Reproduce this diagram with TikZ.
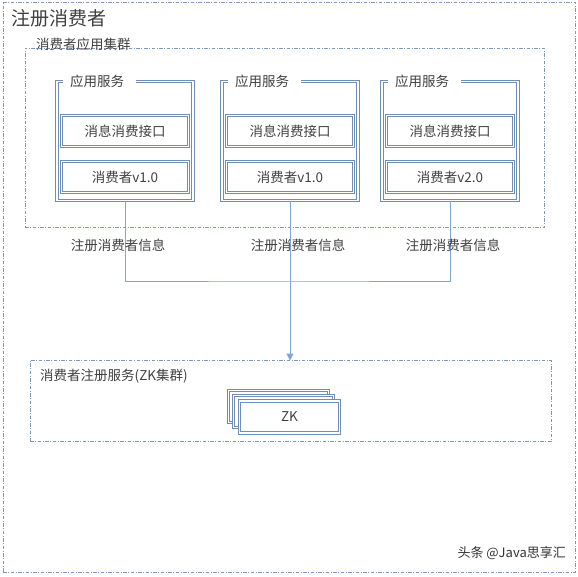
\documentclass[tikz,border=0pt]{standalone}
\usepackage{fontspec}
\setmainfont{Noto Sans CJK SC}
\usetikzlibrary{arrows.meta,positioning}
\definecolor{BoxLine}{HTML}{6F8DB5}
\definecolor{DashLine}{HTML}{7F98BD}
\definecolor{FlowLine}{HTML}{7EA6DB}
\definecolor{TextGrey}{HTML}{404040}

\begin{document}
\begin{tikzpicture}[
            x=1pt, y=-1pt,
            every node/.style={font=\fontsize{13.5}{15}\selectfont, text=TextGrey},
            GroupFrame/.style={draw=DashLine, line width=1pt, dash pattern=on 3.5pt off 1.5pt on 1pt off 1.5pt, outer sep=0pt},
            GroupTitle/.style={inner xsep=2pt, inner ysep=1pt, anchor=west},
            ServiceBox/.style={draw=BoxLine, double=white, double distance=1.1pt, line width=1pt, minimum width=136pt, minimum height=119pt, outer sep=0pt},
            InnerBlock/.style={ServiceBox, minimum width=127pt, minimum height=31pt},
            ZkBlock/.style={ServiceBox, fill=white, minimum width=100pt, minimum height=32pt},
            BoxTitle/.style={fill=white, inner xsep=7pt, inner ysep=1pt, text width=59pt, align=left, anchor=west},
            Flow/.style={draw=FlowLine, line width=1pt},
            ]
            \useasboundingbox (0,0) rectangle (578,576);

            % frames
            \node[GroupFrame, minimum width=572pt, minimum height=570pt] (outer) at (289,287) {};
            \node[anchor=west, inner sep=0pt, font=\fontsize{19}{21}\selectfont] (title) at (11.5,18) {注册消费者};

            \node[GroupFrame, minimum width=519pt, minimum height=179.5pt] (appGroup) at (284.5,137.75) {};
            \node[GroupTitle, right=9pt of appGroup.north west, yshift=4pt] (appTitle) {消费者应用集群};

            \node[GroupFrame, minimum width=521pt, minimum height=80.5pt] (zkGroup) at (290.5,400.75) {};
            \node[anchor=west, inner sep=0pt] (zkTitle) at ([xshift=10pt,yshift=-16pt]zkGroup.north west) {消费者注册服务(ZK集群)};

            % consumer services
            \node[ServiceBox] (svcA) at (125,141) {};
            \node[ServiceBox] (svcB) at (290,141) {};
            \node[ServiceBox] (svcC) at (450,141) {};

            \node[BoxTitle, right=6pt of svcA.north west] (titleA) {应用服务};
            \node[BoxTitle, right=6pt of svcB.north west] (titleB) {应用服务};
            \node[BoxTitle, right=6pt of svcC.north west] (titleC) {应用服务};

            \node[InnerBlock, below=34pt of svcA.north] (apiA) {消息消费接口};
            \node[InnerBlock, below=15pt of apiA] (verA) {消费者v1.0};
            \node[InnerBlock, below=34pt of svcB.north] (apiB) {消息消费接口};
            \node[InnerBlock, below=15pt of apiB] (verB) {消费者v1.0};
            \node[InnerBlock, below=34pt of svcC.north] (apiC) {消息消费接口};
            \node[InnerBlock, below=15pt of apiC] (verC) {消费者v2.0};

            % zk stack
            \node[ZkBlock] (zk3) at (278.5,406.5) {};
            \node[ZkBlock] (zk2) at (283.5,411.5) {};
            \node[ZkBlock] (zk1) at (289.5,417) {ZK};

            % registration flow
            \coordinate (joint) at (290,281);
            \draw[Flow] (svcA.south) |- (joint) -| (svcC.south);
            \draw[Flow, -{Triangle[length=7pt, width=7pt]}] (svcB.south) -- (svcB.south |- zkGroup.north);

            \node (regA) at (118,245) {注册消费者信息};
            \node (regB) at (298,245) {注册消费者信息};
            \node (regC) at (453,245) {注册消费者信息};

            \node[anchor=east, inner sep=0pt, text=black!80, font=\fontsize{13}{15}\selectfont] (mark) at (566,553) {头条 @Java思享汇};

        \end{tikzpicture}
\end{document}
